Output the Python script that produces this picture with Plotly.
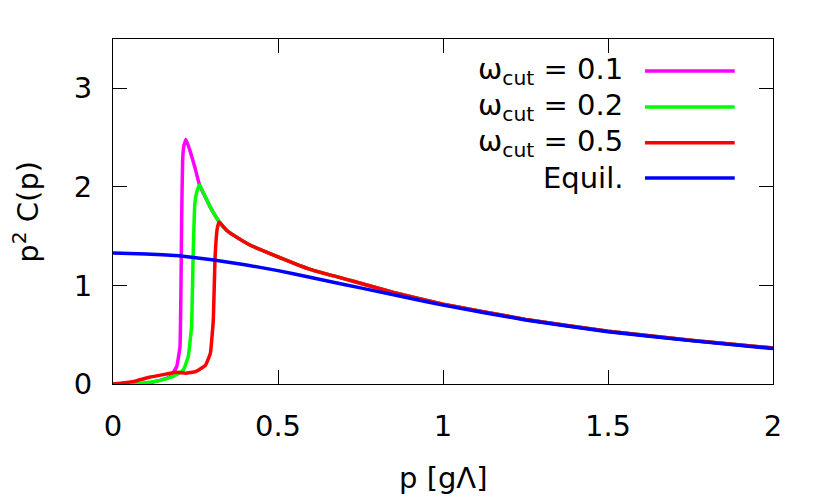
import plotly.graph_objects as go

# 数据：从图上读取
p_equil = [0, 0.1, 0.2, 0.3, 0.4, 0.5, 0.6, 0.7, 0.8, 0.9, 1.0, 1.25, 1.5, 1.75, 2.0]
c_equil = [1.33, 1.32, 1.30, 1.26, 1.21, 1.15, 1.08, 1.01, 0.94, 0.87, 0.80, 0.65, 0.53, 0.44, 0.36]

# 共同尾部 (三条曲线峰后重合)
p_tail = [0.322, 0.344, 0.365, 0.415, 0.5, 0.6, 0.72, 0.85, 1.0, 1.25, 1.5, 1.75, 2.0]
c_tail = [1.645, 1.56, 1.51, 1.41, 1.29, 1.16, 1.05, 0.93, 0.81, 0.655, 0.535, 0.445, 0.365]

p_05 = [0, 0.06, 0.11, 0.16, 0.19, 0.22, 0.25, 0.28, 0.295, 0.304, 0.309, 0.316]
c_05 = [0, 0.024, 0.068, 0.10, 0.118, 0.11, 0.125, 0.19, 0.31, 0.65, 1.26, 1.58]

p_02 = [0, 0.08, 0.14, 0.18, 0.213, 0.228, 0.238, 0.243, 0.248, 0.254, 0.262, 0.294]
c_02 = [0, 0.007, 0.034, 0.074, 0.14, 0.28, 0.58, 1.32, 1.83, 1.95, 2.02, 1.80]

p_01 = [0, 0.09, 0.14, 0.173, 0.193, 0.203, 0.206, 0.208, 0.211, 0.215, 0.221, 0.233, 0.248]
c_01 = [0, 0.0, 0.034, 0.074, 0.175, 0.38, 0.99, 1.66, 2.27, 2.42, 2.48, 2.37, 2.20]

labels = ["ω<sub>cut</sub> = 0.1", "ω<sub>cut</sub> = 0.2", "ω<sub>cut</sub> = 0.5", "Equil."]
colors = ["#ff00ff", "#00ff00", "#ff0000", "#0000ff"]

x_ticks = [0, 0.5, 1, 1.5, 2]
x_ticktext = ["0", "0.5", "1", "1.5", "2"]
y_ticks = [0, 1, 2, 3]

FONT = "DejaVu Sans"
FS = 29

series = [
    (p_01 + p_02[-2:] + p_tail, c_01 + c_02[-2:] + c_tail),
    (p_02 + p_tail, c_02 + c_tail),
    (p_05 + p_tail, c_05 + c_tail),
    (p_equil, c_equil),
]

fig = go.Figure()
for (px, cy), name, col in zip(series, labels, colors):
    fig.add_trace(go.Scatter(
        x=px, y=cy, mode="lines", name=name,
        line=dict(color=col, width=3.5, shape="spline", smoothing=0.3),
        showlegend=False,
    ))

# 手工图例：文字在左，线段在右 (gnuplot风格)
leg_y = [0.907, 0.803, 0.699, 0.597]
for name, col, yy in zip(labels, colors, leg_y):
    fig.add_annotation(
        xref="paper", yref="paper", x=0.775, y=yy, text=name,
        showarrow=False, xanchor="right", yanchor="middle",
        font=dict(family=FONT, size=FS, color="black"),
    )
    fig.add_shape(
        type="line", xref="paper", yref="paper",
        x0=0.806, x1=0.942, y0=yy, y1=yy,
        line=dict(color=col, width=3.5),
    )

fig.add_annotation(
    xref="paper", yref="paper", x=0.5, y=-0.272, text="p [gΛ]",
    showarrow=False, xanchor="center", yanchor="middle",
    font=dict(family=FONT, size=FS, color="black"),
)
fig.add_annotation(
    xref="paper", yref="paper", x=-0.133, y=0.5, text="p<sup>2</sup> C(p)",
    showarrow=False, xanchor="center", yanchor="middle", textangle=-90,
    font=dict(family=FONT, size=FS, color="black"),
)

axis_common = dict(
    showgrid=False, zeroline=False, showline=True, linecolor="black", linewidth=1,
    mirror="ticks", ticks="inside", ticklen=14, tickcolor="black", tickwidth=1,
    tickfont=dict(family=FONT, size=FS, color="black"),
)

# 页面body默认有8px边距，所以图整体缩小8px
fig.update_layout(
    width=822, height=490,
    margin=dict(l=105, r=57, t=31, b=114),
    paper_bgcolor="white", plot_bgcolor="white",
    xaxis=dict(range=[0, 2], tickvals=x_ticks, ticktext=x_ticktext,
               ticklabelstandoff=16, **axis_common),
    yaxis=dict(range=[0, 3.5], tickvals=y_ticks, ticksuffix="\u00a0",
               ticklabelstandoff=14, **axis_common),
    showlegend=False,
)

fig.write_html("out.html")
